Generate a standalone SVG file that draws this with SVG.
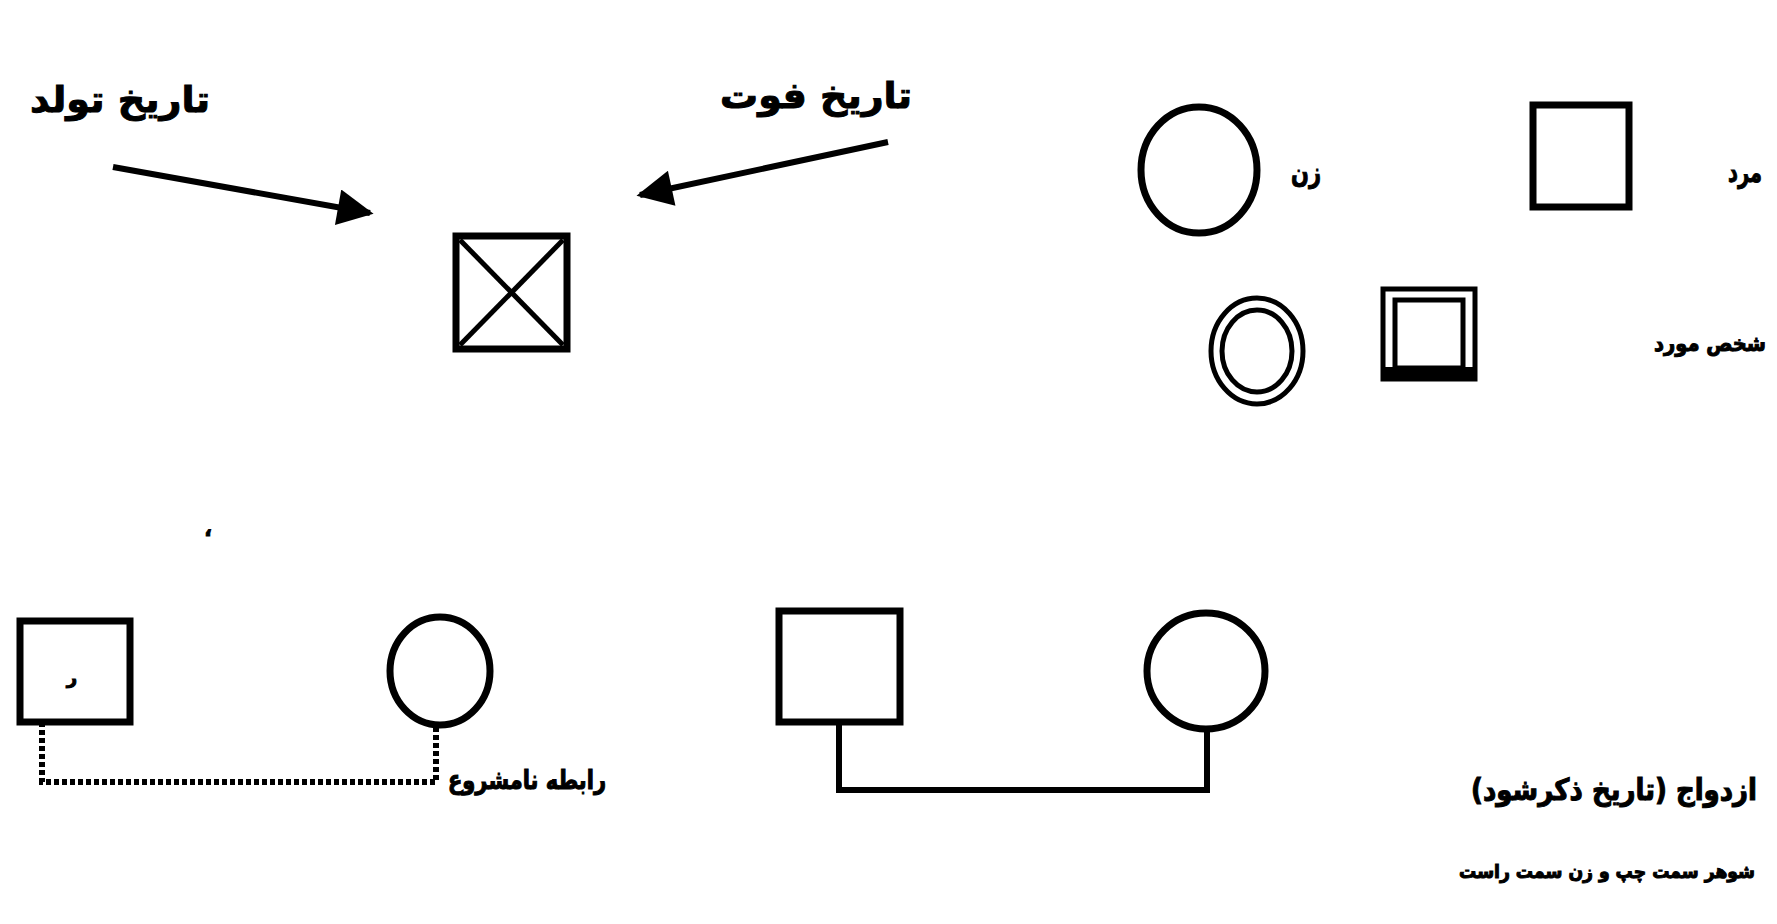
<svg xmlns="http://www.w3.org/2000/svg" width="1777" height="924" viewBox="0 0 1777 924">
  <defs>
    <style>
      .lbl { font-family: "DejaVu Sans", "Noto Sans", sans-serif; font-weight: bold; fill: #000; stroke: #000; stroke-width: 1; text-anchor: middle; }
      .cond { font-family: "DejaVu Sans Condensed", "DejaVu Sans", sans-serif; }
      .shape { fill: none; stroke: #000; stroke-width: 7; }
      .thin { fill: none; stroke: #000; stroke-width: 5; }
      .link { fill: none; stroke: #000; stroke-width: 6; }
      .dotted { fill: none; stroke: #000; stroke-width: 6; stroke-dasharray: 5 3; }
    </style>
    <marker id="head" viewBox="0 0 10 10" refX="9" refY="5" markerWidth="7" markerHeight="6" orient="auto" markerUnits="strokeWidth">
      <path d="M0,0 L10,5 L0,10 z" fill="#000"/>
    </marker>
  </defs>
  <rect width="1777" height="924" fill="#fff"/>

  <!-- legend: birth / death dates -->
  <g id="birth-date">
    <text class="lbl" x="120" y="112" font-size="36" textLength="180" lengthAdjust="spacingAndGlyphs">تاریخ تولد</text>
  </g>
  <g id="death-date">
    <text class="lbl" x="816" y="108" font-size="36" textLength="192" lengthAdjust="spacingAndGlyphs">تاریخ فوت</text>
  </g>
  <g id="deceased">
    <rect class="shape" x="456" y="236" width="111" height="113" stroke-width="8"/>
    <line class="thin" x1="460" y1="240" x2="563" y2="345" stroke-width="6"/>
    <line class="thin" x1="563" y1="240" x2="460" y2="345" stroke-width="6"/>
  </g>

  <!-- legend: female / male -->
  <g id="female">
    <ellipse class="shape" cx="1199" cy="170" rx="58" ry="63"/>
    <text class="lbl" x="1306" y="182" font-size="28" textLength="30" lengthAdjust="spacingAndGlyphs">زن</text>
  </g>
  <g id="male">
    <rect class="shape" x="1533" y="105" width="96" height="102"/>
    <text class="lbl" x="1745" y="182" font-size="28" textLength="34" lengthAdjust="spacingAndGlyphs">مرد</text>
  </g>

  <!-- legend: proband -->
  <g id="proband-female">
    <ellipse class="thin" cx="1257" cy="351" rx="46" ry="53"/>
    <ellipse class="thin" cx="1257" cy="351" rx="35" ry="41"/>
  </g>
  <g id="proband-male">
    <rect class="thin" x="1383" y="289" width="92" height="90"/>
    <rect class="thin" x="1395" y="300" width="68" height="68"/>
    <rect fill="#000" x="1383" y="367" width="92" height="12"/>
    <text class="lbl cond" x="1710" y="351" font-size="22" textLength="112" lengthAdjust="spacingAndGlyphs">شخص مورد</text>
  </g>

  <!-- illegitimate union -->
  <g id="union-male">
    <rect class="shape" x="20" y="621" width="110" height="101"/>
    <text class="lbl" x="72" y="684" font-size="18">ر</text>
  </g>
  <g id="union-female">
    <ellipse class="shape" cx="440" cy="671" rx="50" ry="54"/>
  </g>
  <g id="mark">
    <text class="lbl" x="208" y="536" font-size="20">،</text>
  </g>
  <g id="illegitimate-label">
    <text class="lbl cond" x="527" y="789" font-size="26" textLength="158" lengthAdjust="spacingAndGlyphs">رابطه نامشروع</text>
  </g>

  <!-- marriage -->
  <g id="husband">
    <rect class="shape" x="779" y="611" width="121" height="111"/>
  </g>
  <g id="wife">
    <ellipse class="shape" cx="1206" cy="671" rx="59" ry="58"/>
  </g>
  <g id="marriage-label">
    <text class="lbl cond" x="1614" y="800" font-size="30" textLength="286" lengthAdjust="spacingAndGlyphs">ازدواج (تاریخ ذکرشود)</text>
    <text class="lbl cond" x="1607" y="878" font-size="19" textLength="296" lengthAdjust="spacingAndGlyphs">شوهر سمت چپ و زن سمت راست</text>
  </g>

  <!-- connectors -->
  <g id="connectors">
    <line class="link" x1="113" y1="167" x2="370" y2="213" marker-end="url(#head)"/>
    <line class="link" x1="888" y1="142" x2="640" y2="195" marker-end="url(#head)"/>
    <polyline class="dotted" points="42,722 42,782 436,782 436,725"/>
    <polyline class="link" points="839,722 839,790 1207,790 1207,729"/>
  </g>
</svg>
